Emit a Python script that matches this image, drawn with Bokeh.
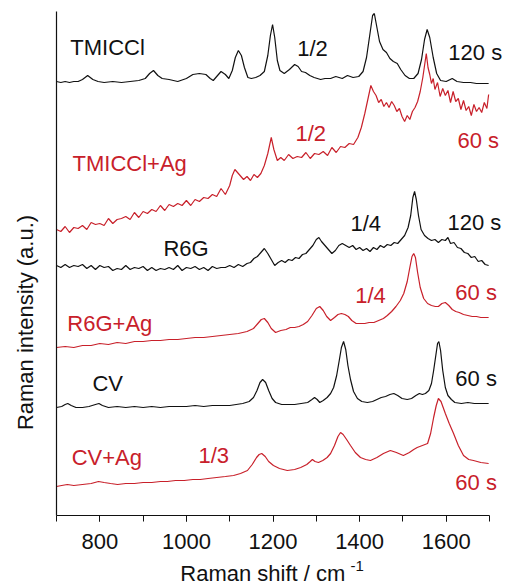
import math
from bokeh.plotting import figure
from bokeh.models import Range1d, Label, SingleIntervalTicker, FixedTicker
from bokeh.embed import file_html
from bokeh.resources import INLINE

# ---------------- data (Raman shift in cm^-1, intensity in a.u., offset-stacked) ----------------
tmiccl_x = [700,710,720,730,740,750,760,772,784,796,810,830,850,870,890,905,915,924,934,944,
            960,980,1000,1015,1030,1045,1055,1062,1070,1080,1090,1098,1106,1113,1120,1127,1134,1142,1150,1160,
            1170,1180,1188,1194,1199,1204,1210,1216,1226,1238,1250,1258,1266,1275,1285,1295,1310,1320,1333,1345,
            1360,1372,1385,1398,1408,1416,1424,1430,1434,1440,1446,1454,1462,1470,1478,1487,1495,1505,1515,1525,
            1535,1543,1550,1556,1562,1570,1578,1587,1600,1614,1625,1640,1656,1670,1685,1698]
tmiccl_y = [434,433,434,433,434,434,436,440,436,434,433,434,433,434,435,437,442,445,440,437,
            436,434,437,441,442,441,437,435,439,444,441,437,445,458,465,460,448,438,437,438,
            440,444,460,480,491,478,455,445,442,446,451,449,444,443,440,438,436,437,437,439,
            437,440,438,439,444,458,482,500,502,488,474,466,463,457,454,452,446,440,437,437,
            442,456,476,486,478,458,442,435,434,437,434,433,433,432,432,432]

tmiccl_ag_x = [700,710,720,730,740,750,760,770,780,790,800,810,820,830,840,850,860,870,880,890,
               900,910,920,930,940,950,960,970,980,990,1000,1010,1020,1030,1040,1050,1060,1070,1080,1090,
               1100,1106,1112,1118,1124,1132,1140,1148,1156,1164,1172,1180,1188,1196,1202,1210,1218,1226,1236,1246,
               1256,1266,1276,1286,1296,1306,1316,1326,1336,1346,1356,1366,1376,1386,1396,1404,1412,1420,1426,1432,
               1438,1444,1450,1456,1462,1468,1474,1480,1486,1492,1498,1504,1510,1516,1522,1528,1534,1540,1546,1550,
               1554,1558,1562,1566,1570,1574,1580,1586,1592,1598,1604,1610,1616,1622,1628,1634,1640,1646,1652,1658,
               1664,1670,1676,1682,1688,1694,1698]
tmiccl_ag_y = [286,284,289,283,288,287,290,286,293,291,292,290,297,292,296,297,299,296,303,298,
               304,302,306,304,310,305,311,309,312,310,315,310,316,314,318,317,321,319,327,321,
               330,340,346,343,340,336,339,335,341,338,342,350,362,378,366,355,358,355,361,357,
               359,358,363,357,362,361,364,360,368,363,369,368,372,371,378,388,402,418,430,424,
               420,413,416,409,413,408,414,410,404,407,399,394,400,396,404,408,414,424,438,450,
               462,448,441,432,437,426,433,419,427,420,425,413,424,414,417,406,415,405,409,400,
               411,404,408,403,413,407,421]

r6g_x = [700,710,720,730,740,750,760,770,780,790,800,810,820,830,840,850,860,870,880,890,
         900,910,920,930,940,950,960,970,980,990,1000,1010,1020,1030,1040,1050,1060,1070,1080,1090,
         1100,1110,1120,1130,1140,1148,1156,1164,1172,1180,1188,1196,1204,1212,1220,1228,1236,1244,1252,1260,
         1268,1276,1284,1292,1300,1306,1312,1320,1328,1336,1344,1352,1360,1368,1376,1384,1392,1400,1408,1416,
         1424,1432,1440,1448,1456,1464,1472,1480,1488,1496,1504,1512,1518,1523,1527,1531,1536,1542,1550,1558,
         1566,1574,1582,1590,1598,1604,1610,1618,1626,1634,1642,1650,1658,1666,1674,1682,1690,1698]
r6g_y = [250,248,251,248,250,249,251,247,250,246,250,248,249,245,247,246,250,246,248,247,
         249,245,248,245,247,246,248,246,250,245,248,247,249,246,248,245,249,247,248,248,
         250,248,251,249,252,253,257,259,263,267,262,256,250,253,255,253,256,255,258,257,
         261,262,266,270,276,278,274,270,266,262,265,270,272,270,268,270,266,268,265,267,
         264,268,266,270,268,271,270,273,272,276,280,288,300,318,324,316,300,286,280,277,
         275,276,273,276,275,278,272,273,268,267,263,262,258,259,254,255,251,250]

r6g_ag_x = [700,720,740,760,780,800,820,840,860,880,900,920,940,960,980,1000,1020,1040,1060,1080,
            1100,1120,1140,1155,1165,1173,1180,1188,1196,1206,1218,1230,1240,1250,1260,1270,1280,1290,1300,1308,
            1316,1324,1333,1342,1350,1358,1366,1374,1382,1392,1402,1412,1422,1433,1444,1455,1464,1474,1484,1494,
            1502,1510,1516,1521,1525,1529,1534,1540,1548,1557,1566,1575,1582,1590,1598,1606,1614,1622,1630,1640,
            1650,1660,1670,1680,1690,1698]
r6g_ag_y = [168,169,168,170,170,172,171,173,172,174,174,175,175,176,176,177,178,178,179,180,
            181,182,184,187,192,196,197,193,187,183,185,186,188,188,189,191,194,200,207,209,
            205,199,195,198,201,202,201,199,195,192,192,192,193,193,195,197,200,204,209,215,
            222,234,248,259,262,258,243,228,217,212,210,209,209,212,213,210,206,204,203,201,
            200,199,199,198,198,198]

cv_x = [700,712,720,726,734,745,760,775,790,798,806,820,840,860,880,900,920,940,960,980,
        1000,1020,1040,1060,1080,1100,1115,1130,1145,1155,1163,1170,1176,1183,1190,1198,1206,1220,1235,1250,
        1265,1280,1290,1296,1302,1308,1316,1325,1333,1340,1347,1353,1358,1363,1368,1373,1379,1386,1395,1405,
        1418,1430,1440,1450,1460,1470,1479,1488,1498,1510,1520,1530,1538,1545,1552,1560,1566,1571,1576,1580,
        1583,1587,1592,1598,1604,1612,1620,1635,1650,1665,1680,1698]
cv_y = [108,109,111,112,110,108,108,109,111,112,110,108,109,108,109,108,109,108,109,109,
        109,110,109,110,110,110,111,112,114,118,125,133,136,133,125,117,113,111,111,111,
        112,113,116,118,116,113,115,118,122,128,140,155,168,174,166,150,136,124,117,114,
        113,114,116,118,119,121,122,120,117,116,117,120,122,121,122,125,132,145,160,172,
        174,165,145,128,120,116,113,112,113,112,112,112]

cv_ag_x = [700,712,725,740,760,780,797,810,825,841,860,880,900,920,940,956,975,995,1015,1032,
           1050,1070,1090,1109,1125,1141,1152,1162,1168,1174,1182,1190,1201,1215,1233,1250,1264,1278,1286,1291,
           1297,1305,1315,1325,1333,1342,1350,1356,1362,1370,1379,1390,1402,1414,1425,1440,1455,1471,1485,1501,
           1515,1525,1533,1545,1557,1564,1571,1577,1582,1588,1598,1607,1617,1628,1640,1652,1663,1680,1698]
cv_ag_y = [29,30,31,30,31,32,34,33,32,31,32,32,33,33,34,34,35,35,36,36,
           37,38,39,40,42,45,51,58,61,62,59,54,50,47,45,46,48,51,54,56,
           54,53,55,58,62,70,79,83,81,76,70,63,58,56,55,58,62,65,63,60,
           63,66,68,70,72,82,98,110,117,114,102,92,82,70,60,56,55,53,52]

x_title = "Raman shift / cm"
x_title_sup = "-1"
y_title = "Raman intensity (a.u.)"

label_texts = ["TMICCl", "1/2", "120 s",
               "TMICCl+Ag", "1/2", "60 s",
               "R6G", "1/4", "120 s",
               "R6G+Ag", "1/4", "60 s",
               "CV", "60 s",
               "CV+Ag", "1/3", "60 s"]

# ---------------- styling / layout ----------------
BLACK = "#111111"
RED = "#c8202a"
FONT = "Liberation Sans"

label_colors = [BLACK, BLACK, BLACK, RED, RED, RED, BLACK, BLACK, BLACK,
                RED, RED, RED, BLACK, BLACK, RED, RED, RED]
label_pos = [(732, 468), (1256, 467), (1605, 463),
             (737, 352), (1252, 382), (1626, 375),
             (947, 267), (1379, 292), (1603, 293),
             (725, 192), (1390, 220), (1621, 223),
             (783, 132), (1621, 137),
             (735, 58), (1028, 60), (1621, 33)]

series = [(tmiccl_x, tmiccl_y, BLACK), (tmiccl_ag_x, tmiccl_ag_y, RED),
          (r6g_x, r6g_y, BLACK), (r6g_ag_x, r6g_ag_y, RED),
          (cv_x, cv_y, BLACK), (cv_ag_x, cv_ag_y, RED)]

W, H = 510, 588
SX = 1000 / 433.0          # cm^-1 per pixel
p = figure(width=W, height=H, title=None,
           x_range=Range1d(700 - 56 * SX, 700 + (W - 56) * SX),
           y_range=Range1d(515 - H, 515),
           min_border_left=0, min_border_right=0, min_border_top=0, min_border_bottom=0,
           toolbar_location=None, output_backend="svg")
p.outline_line_color = None
p.xgrid.visible = False
p.ygrid.visible = False
p.background_fill_color = "white"
p.border_fill_color = "white"

for xs, ys, col in series:
    n = min(len(xs), len(ys))
    p.line(xs[:n], ys[:n], line_color=col, line_width=1.2)

# x axis
p.xaxis.fixed_location = 0
p.xaxis.bounds = (700, 1700)
p.xaxis.ticker = SingleIntervalTicker(interval=200, num_minor_ticks=2)
p.xaxis.axis_line_color = BLACK
p.xaxis.axis_line_width = 1.2
p.xaxis.major_tick_line_color = BLACK
p.xaxis.minor_tick_line_color = BLACK
p.xaxis.major_tick_in = 0
p.xaxis.major_tick_out = 6
p.xaxis.minor_tick_in = 0
p.xaxis.minor_tick_out = 6
p.xaxis.major_label_text_font = FONT
p.xaxis.major_label_text_font_size = "22px"
p.xaxis.major_label_text_color = BLACK
p.xaxis.major_label_standoff = 12

# y axis: only the line
p.yaxis.fixed_location = 700
p.yaxis.bounds = (0, 504)
p.yaxis.ticker = FixedTicker(ticks=[])
p.yaxis.axis_line_color = BLACK
p.yaxis.axis_line_width = 1.2
p.yaxis.major_tick_out = 0
p.yaxis.minor_tick_out = 0
p.yaxis.major_label_text_font_size = "0px"

for t, c, (lx, ly) in zip(label_texts, label_colors, label_pos):
    p.add_layout(Label(x=lx, y=ly, text=t, text_color=c, text_font=FONT,
                       text_font_size="22px", text_align="left", text_baseline="middle"))

p.add_layout(Label(x=628, y=193, text=y_title, angle=math.pi / 2, text_color=BLACK,
                   text_font=FONT, text_font_size="22px", text_align="center",
                   text_baseline="middle"))
p.add_layout(Label(x=986, y=-70, text=x_title, text_color=BLACK, text_font=FONT,
                   text_font_size="22px", text_align="left", text_baseline="bottom"))
p.add_layout(Label(x=1379, y=-55, text=x_title_sup, text_color=BLACK, text_font=FONT,
                   text_font_size="15px", text_align="left", text_baseline="bottom"))

open("out.html", "w").write(file_html(p, INLINE))
